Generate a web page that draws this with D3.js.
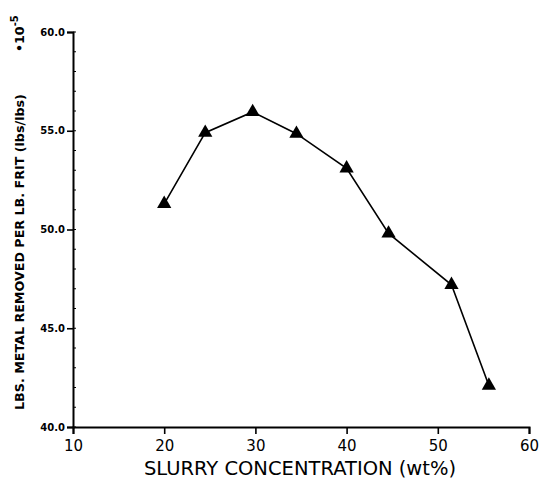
<!DOCTYPE html>
<html>
<head>
<meta charset="utf-8">
<script src="https://cdn.jsdelivr.net/npm/d3@7"></script>
<style>
  body { margin: 0; background: #fff; }
  svg { display: block; }
</style>
</head>
<body>
<div class="chart"></div>
<script>
let FRAME_WIDTH = 540;
let FRAME_HEIGHT = 485;
let MARGINS = {left: 73, right: 11, top: 32, bottom: 58};

// data
let concentration = [20, 24.5, 29.7, 34.5, 40, 44.6, 51.5, 55.6];
let metalRemoved = [51.3, 54.9, 55.95, 54.85, 53.1, 49.8, 47.2, 42.1];

let xTicks = [10, 20, 30, 40, 50, 60];
let yTicks = [40, 45, 50, 55, 60];
let yMinor = d3.range(40, 61, 1);

let PLOT_WIDTH = FRAME_WIDTH - MARGINS.left - MARGINS.right;
let PLOT_HEIGHT = FRAME_HEIGHT - MARGINS.top - MARGINS.bottom;

let FRAME = d3.select(".chart")
              .append("svg")
              .attr("width", FRAME_WIDTH)
              .attr("height", FRAME_HEIGHT);

const X_SCALE = d3.scaleLinear()
                  .domain([10, 60])
                  .range([0, PLOT_WIDTH]);

const Y_SCALE = d3.scaleLinear()
                  .domain([40, 60])
                  .range([PLOT_HEIGHT, 0]);

let plot = FRAME.append("g")
                .attr("transform", "translate(" + MARGINS.left + "," + MARGINS.top + ")");

// bottom axis
let xAxis = plot.append("g")
    .attr("transform", "translate(0," + PLOT_HEIGHT + ")")
    .call(d3.axisBottom(X_SCALE).tickValues(xTicks).tickSize(7).tickPadding(6)
            .tickFormat(d3.format("d")));
xAxis.selectAll("text")
    .attr("font-family", "DejaVu Sans, sans-serif")
    .attr("font-size", "15px")
    .attr("fill", "#000");

// left axis
let yAxis = plot.append("g")
    .call(d3.axisLeft(Y_SCALE).tickValues(yTicks).tickSize(6).tickPadding(2)
            .tickFormat(d3.format(".1f")));
yAxis.selectAll("text")
    .attr("font-family", "DejaVu Sans, sans-serif")
    .attr("font-weight", "bold")
    .attr("font-size", "10px")
    .attr("fill", "#000");

// small inside ticks on the y axis
plot.append("g")
    .selectAll("line")
    .data(yMinor)
    .enter()
    .append("line")
      .attr("x1", 0)
      .attr("x2", 3)
      .attr("y1", (d) => Y_SCALE(d))
      .attr("y2", (d) => Y_SCALE(d))
      .attr("stroke", "#000")
      .attr("stroke-width", 1);

plot.selectAll(".domain").attr("stroke-width", 2).attr("stroke", "#000");
plot.selectAll(".tick line").attr("stroke-width", 1.6).attr("stroke", "#000");

// line + triangles
let pts = concentration.map((c, i) => [c, metalRemoved[i]]);

plot.append("path")
    .datum(pts)
    .attr("fill", "none")
    .attr("stroke", "#000")
    .attr("stroke-width", 1.6)
    .attr("d", d3.line().x((d) => X_SCALE(d[0])).y((d) => Y_SCALE(d[1])));

plot.selectAll(".marker")
    .data(pts)
    .enter()
    .append("path")
      .attr("class", "marker")
      .attr("transform", (d) => "translate(" + X_SCALE(d[0]) + "," + Y_SCALE(d[1]) + ")")
      .attr("d", d3.symbol().type(d3.symbolTriangle).size(88))
      .attr("fill", "#000");

// axis titles
FRAME.append("text")
    .attr("x", 300)
    .attr("y", 475)
    .attr("text-anchor", "middle")
    .attr("font-family", "DejaVu Sans, sans-serif")
    .attr("font-size", "19.5px")
    .attr("fill", "#000")
    .text("SLURRY CONCENTRATION (wt%)");

let yTitle = FRAME.append("text")
    .attr("transform", "translate(24,410) rotate(-90)")
    .attr("font-family", "DejaVu Sans, sans-serif")
    .attr("font-weight", "bold")
    .attr("font-size", "12.7px")
    .attr("fill", "#000");
yTitle.append("tspan").text("LBS. METAL REMOVED PER LB. FRIT (lbs/lbs)");
yTitle.append("tspan").attr("dx", 42).text("\u202210");
yTitle.append("tspan").attr("dy", -6).attr("font-size", "10px").text("-5");
</script>
</body>
</html>
